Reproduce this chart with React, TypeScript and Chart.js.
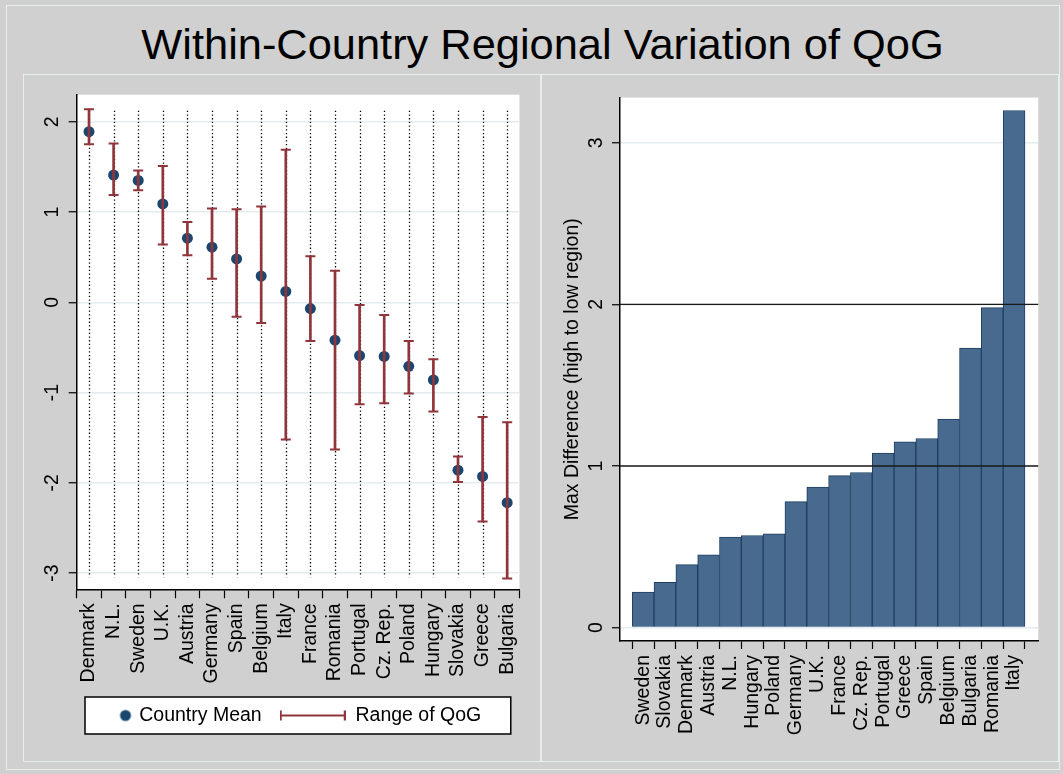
import React, { useEffect, useRef } from 'react';
import { Chart, registerables } from 'chart.js';

Chart.register(...registerables);

// ---------------- data ----------------
const leftCountries = ['Denmark', 'N.L.', 'Sweden', 'U.K.', 'Austria', 'Germany', 'Spain', 'Belgium', 'Italy', 'France', 'Romania', 'Portugal', 'Cz. Rep.', 'Poland', 'Hungary', 'Slovakia', 'Greece', 'Bulgaria'];
const countryMean = [1.89, 1.41, 1.35, 1.09, 0.71, 0.61, 0.48, 0.29, 0.12, -0.07, -0.42, -0.59, -0.6, -0.71, -0.86, -1.86, -1.93, -2.22];
const qogLow = [1.75, 1.19, 1.24, 0.64, 0.52, 0.26, -0.16, -0.23, -1.52, -0.43, -1.63, -1.13, -1.12, -1.01, -1.21, -1.99, -2.43, -3.06];
const qogHigh = [2.14, 1.76, 1.46, 1.51, 0.89, 1.04, 1.03, 1.06, 1.69, 0.51, 0.35, -0.03, -0.14, -0.43, -0.63, -1.71, -1.27, -1.33];
const leftTicks = [-3, -2, -1, 0, 1, 2];

const rightCountries = ['Sweden', 'Slovakia', 'Denmark', 'Austria', 'N.L.', 'Hungary', 'Poland', 'Germany', 'U.K.', 'France', 'Cz. Rep.', 'Portugal', 'Greece', 'Spain', 'Belgium', 'Bulgaria', 'Romania', 'Italy'];
const maxDifference = [0.22, 0.28, 0.39, 0.45, 0.56, 0.57, 0.58, 0.78, 0.87, 0.94, 0.96, 1.08, 1.15, 1.17, 1.29, 1.73, 1.98, 3.2];
const rightTicks = [0, 1, 2, 3];
const refLines = [1, 2];

const titleText = 'Within-Country Regional Variation of QoG';
const yTitleRight = 'Max Difference (high to low region)';
const legendMean = 'Country Mean';
const legendRange = 'Range of QoG';

// ---------------- styles ----------------
const FONT = '"Liberation Sans", Arial, Helvetica, sans-serif';
const FS = 19.5;
const NAVY = '#1a476f';
const MAROON = '#90353b';
const BAR_FILL = '#476a8e';
const BAR_EDGE = '#1f3f60';
const GRID = '#e4ecee';
const PANEL = '#d0d0d0';
const FRAME = '#e8eeee';

Chart.defaults.font.family = FONT;
Chart.defaults.font.size = FS;
Chart.defaults.color = '#000';

function makeDotImage(): HTMLCanvasElement {
  const c = document.createElement('canvas');
  c.width = 74;
  c.height = 14;
  const g = c.getContext('2d')!;
  g.fillStyle = NAVY;
  g.beginPath();
  g.arc(66, 7, 5.5, 0, Math.PI * 2);
  g.fill();
  return c;
}

function makeRangeImage(): HTMLCanvasElement {
  const c = document.createElement('canvas');
  c.width = 66;
  c.height = 14;
  const g = c.getContext('2d')!;
  g.strokeStyle = MAROON;
  g.lineWidth = 2;
  g.beginPath();
  g.moveTo(1, 7);
  g.lineTo(65, 7);
  g.moveTo(1, 2);
  g.lineTo(1, 12);
  g.moveTo(65, 2);
  g.lineTo(65, 12);
  g.stroke();
  return c;
}

const plotBg = {
  id: 'plotBg',
  beforeDraw(chart: any) {
    const { ctx, chartArea: a } = chart;
    ctx.save();
    ctx.fillStyle = '#ffffff';
    ctx.fillRect(a.left, a.top, a.right - a.left, a.bottom - a.top);
    ctx.restore();
  },
};

const legendBox = {
  id: 'legendBox',
  beforeDraw(chart: any) {
    const { ctx, chartArea: a, legend } = chart;
    if (!legend) return;
    const cy = legend.top + 18 + FS / 2;
    const x0 = a.left + 8.3;
    const x1 = a.right - 8.7;
    ctx.save();
    ctx.fillStyle = '#ffffff';
    ctx.fillRect(x0, cy - 18.5, x1 - x0, 37);
    ctx.strokeStyle = '#000';
    ctx.lineWidth = 1.5;
    ctx.strokeRect(x0, cy - 18.5, x1 - x0, 37);
    ctx.restore();
  },
};

const dottedLines = {
  id: 'dottedLines',
  beforeDatasetsDraw(chart: any) {
    const { ctx, chartArea: a } = chart;
    const x = chart.scales.x;
    ctx.save();
    ctx.strokeStyle = '#000';
    ctx.lineWidth = 1.3;
    ctx.setLineDash([1.3, 2.4]);
    leftCountries.forEach((_, i) => {
      const px = Math.round(x.getPixelForValue(i)) + 0.5;
      ctx.beginPath();
      ctx.moveTo(px, a.top + 16);
      ctx.lineTo(px, a.bottom - 12);
      ctx.stroke();
    });
    ctx.restore();
  },
};

const refLinePlugin = {
  id: 'refLinePlugin',
  afterDatasetsDraw(chart: any) {
    const { ctx, chartArea: a } = chart;
    const y = chart.scales.y;
    ctx.save();
    ctx.strokeStyle = '#1a1a1a';
    ctx.lineWidth = 1.3;
    refLines.forEach((v) => {
      const py = y.getPixelForValue(v);
      ctx.beginPath();
      ctx.moveTo(a.left, py);
      ctx.lineTo(a.right, py);
      ctx.stroke();
    });
    ctx.restore();
  },
};

function leftConfig(): any {
  const dotImg = makeDotImage();
  const rangeImg = makeRangeImage();
  return {
    type: 'bar',
    data: {
      labels: leftCountries,
      datasets: [
        {
          type: 'bar',
          label: legendRange,
          data: leftCountries.map((_, i) => [qogLow[i], qogHigh[i]]),
          backgroundColor: MAROON,
          borderWidth: 0,
          barThickness: 2,
        },
        {
          type: 'line',
          label: 'high',
          data: qogHigh,
          showLine: false,
          pointStyle: 'line',
          pointRadius: 5,
          pointBorderWidth: 2,
          borderColor: MAROON,
          pointBorderColor: MAROON,
        },
        {
          type: 'line',
          label: 'low',
          data: qogLow,
          showLine: false,
          pointStyle: 'line',
          pointRadius: 5,
          pointBorderWidth: 2,
          borderColor: MAROON,
          pointBorderColor: MAROON,
        },
        {
          type: 'line',
          label: legendMean,
          data: countryMean,
          showLine: false,
          pointStyle: 'circle',
          pointRadius: 5.5,
          pointBorderWidth: 0,
          pointBackgroundColor: NAVY,
          backgroundColor: NAVY,
          borderColor: NAVY,
        },
      ],
    },
    options: {
      responsive: false,
      animation: false,
      layout: { padding: { left: 0, right: 15.3, top: 18, bottom: 25.75 } },
      plugins: {
        tooltip: { enabled: false },
        legend: {
          display: true,
          position: 'bottom',
          labels: {
            usePointStyle: true,
            pointStyleWidth: 66,
            padding: 18,
            color: '#000',
            font: { family: FONT, size: FS },
            generateLabels: () => [
              { text: legendMean, pointStyle: dotImg, fillStyle: NAVY, strokeStyle: NAVY, lineWidth: 0, hidden: false, datasetIndex: 3, fontColor: '#000' },
              { text: legendRange, pointStyle: rangeImg, fillStyle: MAROON, strokeStyle: MAROON, lineWidth: 0, hidden: false, datasetIndex: 0, fontColor: '#000' },
            ],
          },
        },
      },
      scales: {
        x: {
          type: 'category',
          offset: true,
          grid: { display: true, drawOnChartArea: false, drawTicks: true, tickLength: 9, tickColor: '#000', tickWidth: 1.2 },
          border: { display: true, color: '#000', width: 1.5 },
          ticks: { autoSkip: false, minRotation: 90, maxRotation: 90, padding: 5, color: '#000', font: { family: FONT, size: FS } },
          afterFit: (s: any) => { s.height = 98.45; },
        },
        y: {
          type: 'linear',
          min: -3.18,
          max: 2.3,
          afterBuildTicks: (s: any) => { s.ticks = leftTicks.map((v) => ({ value: v })); },
          grid: { color: GRID, lineWidth: 1.5, tickColor: '#000', tickLength: 8, tickWidth: 1.2 },
          border: { display: true, color: '#000', width: 1.5 },
          ticks: { minRotation: 90, maxRotation: 90, crossAlign: 'center', padding: 7, color: '#000', font: { family: FONT, size: FS } },
          afterFit: (s: any) => { s.width = 52.7; },
        },
      },
    },
    plugins: [plotBg, legendBox, dottedLines],
  };
}

function rightConfig(): any {
  return {
    type: 'bar',
    data: {
      datasets: [
        {
          label: yTitleRight,
          data: rightCountries.map((_, i) => ({ x: i, y: maxDifference[i] })),
          backgroundColor: BAR_FILL,
          borderColor: BAR_EDGE,
          borderWidth: 1,
          barPercentage: 1,
          categoryPercentage: 1,
        },
      ],
    },
    options: {
      responsive: false,
      animation: false,
      layout: { padding: { left: 0, right: 18.7, top: 18.3, bottom: 10 } },
      plugins: { legend: { display: false }, tooltip: { enabled: false } },
      scales: {
        x: {
          type: 'linear',
          offset: false,
          min: -1.06,
          max: 18.11,
          afterBuildTicks: (s: any) => { s.ticks = rightCountries.map((_, i) => ({ value: i })); },
          grid: { display: true, drawOnChartArea: false, drawTicks: true, tickLength: 8, tickColor: '#000', tickWidth: 1.2 },
          border: { display: true, color: '#000', width: 1.5 },
          ticks: {
            autoSkip: false,
            minRotation: 90,
            maxRotation: 90,
            padding: 6,
            color: '#000',
            font: { family: FONT, size: FS },
            callback: (v: any) => rightCountries[Math.round(v)] ?? '',
          },
          afterFit: (s: any) => { s.height = 110; },
        },
        y: {
          type: 'linear',
          min: -0.083,
          max: 3.28,
          afterBuildTicks: (s: any) => { s.ticks = rightTicks.map((v) => ({ value: v })); },
          grid: { color: GRID, lineWidth: 1.5, tickColor: '#000', tickLength: 8, tickWidth: 1.2 },
          border: { display: true, color: '#000', width: 1.5 },
          ticks: { minRotation: 90, maxRotation: 90, crossAlign: 'center', padding: 9.9, color: '#000', font: { family: FONT, size: FS } },
          title: { display: true, text: yTitleRight, color: '#000', font: { family: FONT, size: FS }, padding: { top: 19.3, bottom: 0 } },
          afterFit: (s: any) => { s.width = 78; },
        },
      },
    },
    plugins: [plotBg, refLinePlugin],
  };
}

function ChartCanvas(props: { make: () => any; left: number; top: number; width: number; height: number }) {
  const ref = useRef<HTMLCanvasElement | null>(null);
  useEffect(() => {
    const chart = new Chart(ref.current as HTMLCanvasElement, props.make());
    return () => chart.destroy();
  }, []);
  return (
    <canvas
      ref={ref}
      width={props.width}
      height={props.height}
      style={{ position: 'absolute', left: props.left, top: props.top, width: props.width, height: props.height }}
    />
  );
}

export default function App() {
  return (
    <div style={{ position: 'absolute', left: 0, top: 0, width: 1063, height: 774, background: PANEL, overflow: 'hidden', fontFamily: FONT }}>
      <div style={{ position: 'absolute', left: 6, top: 5, width: 1054, height: 765, border: `1px solid ${FRAME}`, boxSizing: 'border-box' }} />
      <div style={{ position: 'absolute', left: 23, top: 74, width: 519, height: 688, border: `1.5px solid ${FRAME}`, boxSizing: 'border-box' }} />
      <div style={{ position: 'absolute', left: 540, top: 74, width: 519, height: 688, border: `1.5px solid ${FRAME}`, boxSizing: 'border-box' }} />
      <div
        style={{
          position: 'absolute',
          left: 22,
          top: 22.6,
          width: 1041,
          textAlign: 'center',
          fontSize: 43.4,
          lineHeight: '43.4px',
          color: '#000',
          whiteSpace: 'nowrap',
        }}
      >
        {titleText}
      </div>
      <ChartCanvas make={leftConfig} left={24} top={76} width={512} height={685} />
      <ChartCanvas make={rightConfig} left={542} top={76} width={515} height={685} />
    </div>
  );
}
